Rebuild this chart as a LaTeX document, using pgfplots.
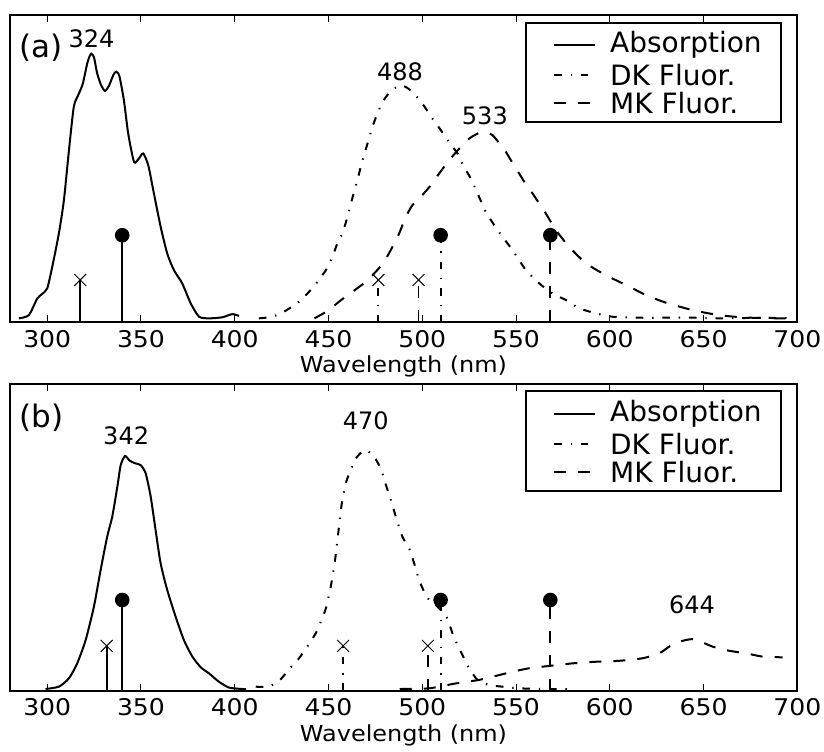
\documentclass[border=0pt]{standalone}
\usepackage{fontspec}
\setmainfont{DejaVu Sans}
\newfontfamily\widefont{DejaVu Sans}[FakeStretch=1.09]
\usepackage{pgfplots}
\pgfplotsset{compat=1.18}

% line styles of the three spectra and of the transition stems
\pgfplotsset{
  absorb/.style={black, line width=1pt, solid},
  dk/.style={black, line width=1pt, dash pattern=on 3.8pt off 4.4pt on 0.7pt off 4.4pt},
  mk/.style={black, line width=1pt, dash pattern=on 6pt off 6pt},
  curve/.style={smooth, tension=0.4},
  stemdot/.style={mark=*, mark size=3.2pt, mark indices={2}, mark options={solid, fill=black}, forget plot},
  stemx/.style={mark=x, mark size=4.2pt, mark indices={2}, mark options={solid, line width=0.5pt}, forget plot},
}

\pgfplotsset{
  spec/.style={
    width=393.8pt, height=153.5pt, scale only axis,
    xmin=280, xmax=700,
    xtick={300,350,...,700},
    ytick=\empty,
    tick align=inside, xtick pos=both,
    major tick length=3.5pt,
    every tick/.style={black, line width=0.5pt},
    axis line style={line width=1pt},
    /pgf/number format/assume math mode=true,
    /pgf/number format/1000 sep={},
    tick label style={font=\widefont\fontsize{11.5}{13.5}\selectfont},
    xticklabel style={yshift=-0.4pt},
    xlabel={Wavelength (nm)},
    xlabel style={font=\widefont\fontsize{11}{13}\selectfont, at={(axis description cs:0.5,0)}, anchor=center, yshift=-22.2pt},
    legend cell align=left,
    legend image code/.code={\path (0pt,0pt); \draw[##1] (6pt,0pt) -- (26.5pt,0pt);},
    legend style={at={(1,1)}, anchor=north east, xshift=-7.8pt, yshift=-3.2pt,
      draw=black, line width=1pt, fill=white,
      inner xsep=7.5pt, inner ysep=2.8pt,
      nodes={inner xsep=2pt, inner ysep=1.5pt, text depth=},
      row sep=0pt, column sep=5pt,
      font=\fontsize{14}{16.8}\selectfont},
  },
}

\begin{document}
\begin{tikzpicture}
\useasboundingbox (0,0) rectangle (412pt,375.5pt);

% ---------------- panel (a) ----------------
\begin{axis}[spec, at={(4.85pt,214.35pt)}, anchor=south west, ymin=-0.015, ymax=1.145]
\addplot[absorb, curve] coordinates {
(284.9,0) (290.2,0.012) (294.7,0.075) (297.3,0.092) (300,0.113) (302.7,0.195)
(306.2,0.32) (308.9,0.446) (311.6,0.635) (314.2,0.80) (316.9,0.849) (319,0.887)
(321.3,0.962) (322.6,0.99) (323.6,1.0) (325,0.985) (326.5,0.93) (328.5,0.885)
(330.8,0.859) (333,0.88) (335.3,0.92) (336.8,0.932) (338.5,0.915) (340.9,0.824)
(343.2,0.698) (346.3,0.591) (348.9,0.604) (351.2,0.623) (353.9,0.578) (356.9,0.472)
(360.5,0.346) (364,0.245) (367.6,0.182) (372,0.132) (376.5,0.057) (381,0.006)
(386.3,0) (393.4,0.004) (398.7,0.016) (402.3,0.009)
};
\addlegendentry{Absorption}
\addplot[dk, curve] coordinates {
(412.9,0) (420.1,0.006) (427.2,0.029) (434.3,0.063) (439.6,0.1) (444.1,0.138)
(448.6,0.182) (452.1,0.232) (454.7,0.283) (457.4,0.321) (460.1,0.383) (462.4,0.446)
(465.4,0.522) (468.1,0.597) (470.8,0.66) (473.4,0.723) (476.1,0.774) (478.8,0.817)
(482,0.849) (485,0.868) (488,0.88) (491,0.875) (494.8,0.855) (500.1,0.811)
(505.4,0.755) (509.9,0.711) (514.3,0.666) (518.8,0.623) (522.3,0.572) (525.9,0.528)
(529.5,0.472) (533.9,0.402) (538.4,0.352) (542.8,0.308) (548.1,0.258) (555.3,0.182)
(562.4,0.132) (569.5,0.094) (576.6,0.069) (583.7,0.038) (592.6,0.019) (601.5,0.006)
(619.3,0.002) (640,0.003) (660,0) (680,0.002) (697,0)
};
\addlegendentry{DK Fluor.}
\addplot[mk, curve] coordinates {
(442.5,0) (450.3,0.031) (455.6,0.063) (462.7,0.1) (469.9,0.138) (475.2,0.176)
(479.7,0.214) (484.1,0.27) (487.7,0.321) (491.2,0.383) (494.8,0.428) (499.2,0.459)
(504.6,0.503) (509,0.547) (514.3,0.597) (519.7,0.641) (525,0.679) (529.5,0.698)
(533,0.704) (537.5,0.692) (541.9,0.654) (544.6,0.629) (547.3,0.597) (551.7,0.547)
(556.1,0.497) (558.8,0.472) (565.9,0.396) (571.3,0.333) (578.4,0.27) (587.3,0.208)
(597.9,0.163) (608.6,0.126) (619.3,0.088) (630,0.059) (644.2,0.031) (658.4,0.012)
(672.7,0.003) (690.4,0) (697,0)
};
\addlegendentry{MK Fluor.}
% computed transitions
\addplot[absorb, line width=0.9pt, stemx] coordinates {(317.6,-0.015) (317.6,0.145)};
\addplot[absorb, line width=0.9pt, stemdot] coordinates {(340,-0.015) (340,0.314)};
\addplot[dk, line width=0.9pt, stemx] coordinates {(476.6,-0.015) (476.6,0.145)};
\addplot[mk, line width=0.9pt, stemx] coordinates {(498,-0.015) (498,0.145)};
\addplot[dk, line width=0.9pt, stemdot] coordinates {(509.8,-0.015) (509.8,0.314)};
\addplot[mk, line width=0.9pt, stemdot] coordinates {(568.3,-0.015) (568.3,0.314)};
\node[font=\fontsize{15.5}{18}\selectfont] at (axis cs:296.7,1.023) {(a)};
\node[font=\fontsize{12}{14}\selectfont] at (axis cs:323.6,1.058) {324};
\node[font=\fontsize{12}{14}\selectfont] at (axis cs:488.2,0.93) {488};
\node[font=\fontsize{12}{14}\selectfont] at (axis cs:533.4,0.767) {533};
\end{axis}

% ---------------- panel (b) ----------------
\begin{axis}[spec, at={(4.85pt,30pt)}, anchor=south west, ymin=-0.0086, ymax=1.309]
\addplot[absorb, curve] coordinates {
(299.1,0) (306.2,0.01) (311.6,0.046) (316,0.11) (320.5,0.21) (324.9,0.353)
(328.5,0.511) (332,0.654) (334.7,0.74) (337.4,0.868) (339.2,0.961) (341.5,1.0)
(344,0.98) (346.8,0.969) (349.8,0.961) (352.5,0.926) (355.2,0.825) (357.8,0.682)
(360.5,0.539) (364,0.425) (368.5,0.31) (372.9,0.21) (377.4,0.139) (381.9,0.093)
(386.3,0.067) (391.6,0.031) (397,0.006) (404,0) (406,0)
};
\addlegendentry{Absorption}
\addplot[dk, curve] coordinates {
(411.2,0.01) (418.3,0.01) (424.5,0.042) (429,0.085) (434.3,0.132) (438.7,0.182)
(443.2,0.239) (445.9,0.289) (448.6,0.346) (451.2,0.439) (453,0.525) (454.2,0.597)
(455.6,0.697) (457.1,0.797) (459.2,0.883) (461.9,0.94) (464.6,0.99) (469.4,1.026)
(474.3,0.997) (478.2,0.94) (480.6,0.876) (482.7,0.825) (485.9,0.74) (489.4,0.654)
(493,0.604) (495.7,0.539) (498.3,0.468) (501,0.418) (503.7,0.382) (507.2,0.36)
(510.8,0.332) (513.4,0.303) (516.1,0.239) (518.8,0.189) (522.3,0.132) (525,0.089)
(529.5,0.039) (535.7,0.017) (542.8,0.01) (551.7,0.003) (565,0) (580,0)
};
\addlegendentry{DK Fluor.}
\addplot[mk, curve] coordinates {
(488,0) (503.7,0.003) (517.9,0.024) (530.3,0.039) (539.2,0.056) (548.1,0.074)
(557,0.089) (567.7,0.099) (580.1,0.11) (592.6,0.117) (605,0.121) (617.5,0.132)
(626.4,0.153) (631.7,0.182) (637.1,0.203) (642.4,0.213) (644,0.214) (648.7,0.203)
(654.8,0.182) (663.7,0.164) (672.7,0.153) (681.5,0.139) (692.2,0.136)
};
\addlegendentry{MK Fluor.}
\addplot[absorb, line width=0.9pt, stemx] coordinates {(331.7,-0.0086) (331.7,0.185)};
\addplot[absorb, line width=0.9pt, stemdot] coordinates {(340,-0.0086) (340,0.382)};
\addplot[dk, line width=0.9pt, stemx] coordinates {(457.8,-0.0086) (457.8,0.185)};
\addplot[mk, line width=0.9pt, stemx] coordinates {(503,-0.0086) (503,0.185)};
\addplot[dk, line width=0.9pt, stemdot] coordinates {(509.8,-0.0086) (509.8,0.382)};
\addplot[mk, line width=0.9pt, stemdot] coordinates {(568.3,-0.0086) (568.3,0.382)};
\node[font=\fontsize{15.5}{18}\selectfont] at (axis cs:296.9,1.166) {(b)};
\node[font=\fontsize{12}{14}\selectfont] at (axis cs:342.1,1.087) {342};
\node[font=\fontsize{12}{14}\selectfont] at (axis cs:469.9,1.152) {470};
\node[font=\fontsize{12}{14}\selectfont] at (axis cs:643.8,0.36) {644};
\end{axis}
\end{tikzpicture}
\end{document}
